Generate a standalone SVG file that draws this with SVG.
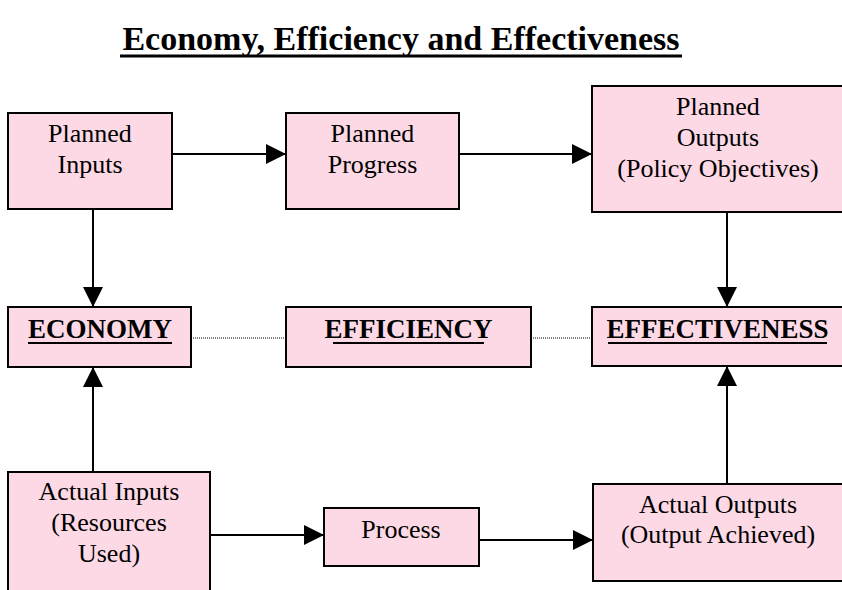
<svg xmlns="http://www.w3.org/2000/svg" width="842" height="590" viewBox="0 0 842 590">
  <style>
    .box { fill: #FDD9E6; stroke: #000; stroke-width: 2; }
    text { font-family: 'Liberation Serif', 'Times New Roman', Times, 'DejaVu Serif', serif; fill: #000; text-anchor: middle; }
    .lbl { font-size: 26px; }
    .key { font-size: 27px; font-weight: bold; }
    .title { font-size: 34px; font-weight: bold; }
    .ul { stroke: #000; stroke-width: 2; }
    .flow { stroke: #000; stroke-width: 2; fill: none; marker-end: url(#head); }
    .dots { stroke: #000; stroke-width: 1; stroke-dasharray: 1 1; fill: none; }
  </style>
  <defs>
    <marker id="head" markerUnits="userSpaceOnUse" markerWidth="20" markerHeight="20" refX="20" refY="10" orient="auto">
      <path d="M0,0 L20,10 L0,20 Z" fill="#000"/>
    </marker>
  </defs>

  <rect width="842" height="590" fill="#fff"/>

  <!-- heading -->
  <g id="title">
    <text class="title" x="401" y="50">Economy, Efficiency and Effectiveness</text>
    <line x1="120" y1="56" x2="682" y2="56" stroke="#000" stroke-width="3"/>
  </g>

  <!-- connectors -->
  <g id="connectors">
    <line class="flow" x1="172" y1="154" x2="286" y2="154"/>
    <line class="flow" x1="459" y1="154" x2="592" y2="154"/>
    <line class="flow" x1="93" y1="209" x2="93" y2="307"/>
    <line class="flow" x1="727" y1="212" x2="727" y2="307"/>
    <line class="flow" x1="93" y1="472" x2="93" y2="367"/>
    <line class="flow" x1="727" y1="484" x2="727" y2="366"/>
    <line class="flow" x1="210" y1="535" x2="324" y2="535"/>
    <line class="flow" x1="479" y1="540" x2="593" y2="540"/>
    <line class="dots" x1="191" y1="338" x2="286" y2="338"/>
    <line class="dots" x1="531" y1="338" x2="592" y2="338"/>
  </g>

  <!-- planned row -->
  <g id="planned-inputs">
    <rect class="box" x="8" y="113" width="164" height="96"/>
    <text class="lbl" x="90" y="142">Planned</text>
    <text class="lbl" x="90" y="173">Inputs</text>
  </g>
  <g id="planned-progress">
    <rect class="box" x="286" y="113" width="173" height="96"/>
    <text class="lbl" x="372.5" y="142">Planned</text>
    <text class="lbl" x="372.5" y="173">Progress</text>
  </g>
  <g id="planned-outputs">
    <rect class="box" x="592" y="86" width="252" height="126"/>
    <text class="lbl" x="718" y="115">Planned</text>
    <text class="lbl" x="718" y="146">Outputs</text>
    <text class="lbl" x="718" y="177">(Policy Objectives)</text>
  </g>

  <!-- measures row -->
  <g id="economy">
    <rect class="box" x="8" y="307" width="183" height="60"/>
    <text class="key" x="100" y="338">ECONOMY</text>
    <line class="ul" x1="28" y1="343" x2="172" y2="343"/>
  </g>
  <g id="efficiency">
    <rect class="box" x="286" y="307" width="245" height="60"/>
    <text class="key" x="408.5" y="338">EFFICIENCY</text>
    <line class="ul" x1="333" y1="343" x2="484" y2="343"/>
  </g>
  <g id="effectiveness">
    <rect class="box" x="592" y="307" width="252" height="59"/>
    <text class="key" x="717.5" y="338">EFFECTIVENESS</text>
    <line class="ul" x1="608" y1="343" x2="827" y2="343"/>
  </g>

  <!-- actual row -->
  <g id="actual-inputs">
    <rect class="box" x="8" y="472" width="202" height="130"/>
    <text class="lbl" x="109" y="500">Actual Inputs</text>
    <text class="lbl" x="109" y="531">(Resources</text>
    <text class="lbl" x="109" y="562">Used)</text>
  </g>
  <g id="process">
    <rect class="box" x="324" y="508" width="155" height="58"/>
    <text class="lbl" x="401" y="538">Process</text>
  </g>
  <g id="actual-outputs">
    <rect class="box" x="593" y="484" width="251" height="97"/>
    <text class="lbl" x="718" y="513">Actual Outputs</text>
    <text class="lbl" x="718" y="543">(Output Achieved)</text>
  </g>
</svg>
